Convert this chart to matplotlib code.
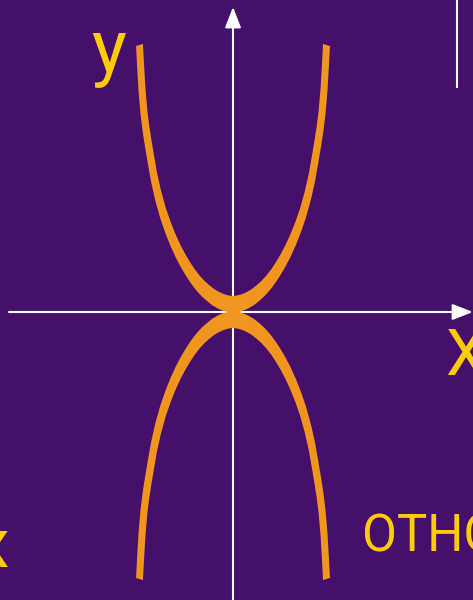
import numpy as np
import matplotlib
matplotlib.use("Agg")
import matplotlib.pyplot as plt

# centre line of the upper-left half of the curve, in pixels from the origin
half_dx = [-93.5, -92.5, -91, -89, -87, -85, -82, -79, -75, -70, -65, -60,
           -55, -50, -45, -40, -35, -30, -25, -20, -15, -10, -5, 0]
half_h = [267, 248, 222, 199, 183, 170, 152, 135, 117, 99, 84.5, 72,
          61, 51.5, 43, 35.5, 29, 23.5, 19, 15, 12, 9.75, 8.25, 7.5]

labels = {"y": "y", "X": "X", "x": "x", "otho": "OTHO"}

BG = "#470f6c"
ORANGE = "#f0961e"
GOLD = "#ffcc00"


def band(x, y, w=7.0, s=2.4):
    """Polygon of a stroke of width w drawn with a pen stretched s times vertically."""
    x = np.asarray(x, float)
    y = np.asarray(y, float)
    tx = np.gradient(x)
    ty = np.gradient(y) / s
    n = np.hypot(tx, ty)
    nx, ny = -ty / n, tx / n
    ox, oy = nx * w / 2, ny * w / 2 * s
    px = np.concatenate([x + ox, (x - ox)[::-1]])
    py = np.concatenate([y + oy, (y - oy)[::-1]])
    return px, py


fig = plt.figure(figsize=(4.73, 6.0), dpi=100)
fig.patch.set_facecolor(BG)
ax = fig.add_axes([0, 0, 1, 1])
ax.set_facecolor(BG)
ax.set_xlim(-233, 240)
ax.set_ylim(-288, 312)
ax.axis("off")

# axes with arrows
arrow = dict(arrowstyle="-|>,head_length=0.9,head_width=0.35", color="white",
             lw=1.5, mutation_scale=14, shrinkA=0, shrinkB=0)
ax.annotate("", xy=(240, 0), xytext=(-224, 0), arrowprops=arrow, zorder=2)
ax.annotate("", xy=(0, 305), xytext=(0, -290), arrowprops=arrow, zorder=2)
ax.plot([224, 224], [312, 224], color="white", lw=1.5, solid_capstyle="butt")

# the two curves
cx = np.concatenate([half_dx, -np.array(half_dx[-2::-1])])
cy = np.concatenate([half_h, np.array(half_h[-2::-1])])
for sign in (1, -1):
    px, py = band(cx, sign * cy)
    ax.fill(px, py, color=ORANGE, lw=0, zorder=3)

font = ["Roboto", "DejaVu Sans"]
ax.text(-142, 240, labels["y"], color=GOLD, fontsize=53, family=font,
        ha="left", va="baseline")
ax.text(212, -63, labels["X"], color=GOLD, fontsize=46, family=font,
        ha="left", va="baseline")
ax.text(-224, -255, labels["x"], color=GOLD, fontsize=50, family=font,
        ha="right", va="baseline")
ax.text(129, -240, labels["otho"], color=GOLD, fontsize=36.5, family=font,
        ha="left", va="baseline")

fig.savefig("out.png", dpi=100, facecolor=BG)
